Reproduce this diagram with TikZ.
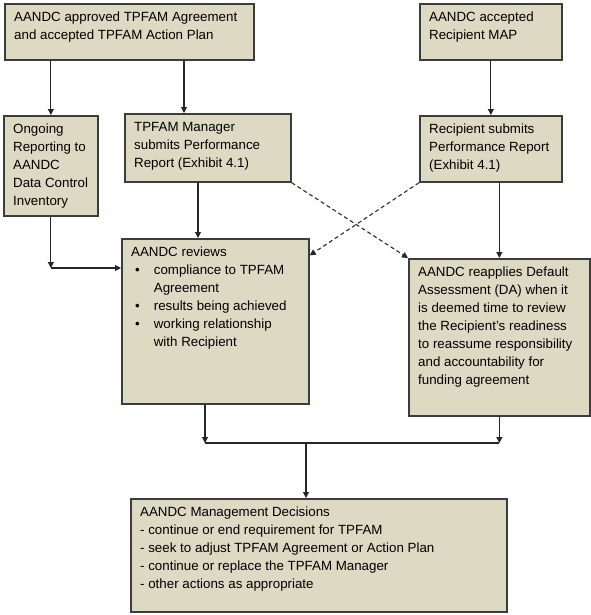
\documentclass[tikz,border=0pt]{standalone}
\usepackage{fontspec}
\setmainfont{Liberation Sans}
\usepackage{xcolor}
\usetikzlibrary{arrows.meta}
\definecolor{boxfill}{RGB}{221,217,195}
\definecolor{boxline}{RGB}{60,60,60}
\newlength\pxu
\setlength\pxu{0.75pt}
% text of a box, top aligned, sizes in pixels
\newcommand\boxtext[3]{\parbox[t][\dimexpr#2\pxu-8pt][t]{\dimexpr#1\pxu-14pt}{\raggedright\strut#3}}
\newcommand\revitem[1]{\par\hangindent=17pt\hangafter=1\noindent\makebox[17pt][l]{\hspace{3pt}\textbullet}#1}
\tikzset{
    stage/.style={draw=boxline, fill=boxfill, line width=1.3pt, anchor=north west,
        inner xsep=7pt, inner ysep=4pt, font=\fontsize{10}{13.5}\selectfont},
    flow/.style={-{Triangle[length=4.5pt,width=4.5pt]}, line width=0.8pt, draw=black!85},
    cross/.style={flow, dashed, dash pattern=on 3pt off 2.2pt}
}

\begin{document}
\begin{tikzpicture}[x=0.75pt, y=-0.75pt]
        \useasboundingbox (0,0) rectangle (590,615);
        \node[stage] (approved) at (4,3) {\boxtext{249}{56}{AANDC approved TPFAM Agreement\\and accepted TPFAM Action Plan}};
        \node[stage] (map) at (419,3) {\boxtext{142}{56}{AANDC accepted\\Recipient MAP}};
        \node[stage] (ongoing) at (3,115) {\boxtext{94}{100}{Ongoing\\Reporting to\\AANDC\\Data Control\\Inventory}};
        \node[stage] (manager) at (124,113) {\boxtext{166}{68}{TPFAM Manager\\submits Performance\\Report (Exhibit 4.1)}};
        \node[stage] (recipient) at (419,115) {\boxtext{142}{66}{Recipient submits\\Performance Report\\(Exhibit 4.1)}};
        \node[stage] (reviews) at (121,238) {\boxtext{187}{165}{AANDC reviews
            \revitem{compliance to TPFAM\newline Agreement}
            \revitem{results being achieved}
            \revitem{working relationship\newline with Recipient}}};
        \node[stage] (reapplies) at (408,258) {\boxtext{181}{157}{AANDC reapplies Default\\Assessment (DA) when it\\is deemed time to review\\the Recipient’s readiness\\to reassume responsibility\\and accountability for\\funding agreement}};
        \node[stage] (decisions) at (130,498) {\boxtext{376}{113}{AANDC Management Decisions\\- continue or end requirement for TPFAM\\- seek to adjust TPFAM Agreement or Action Plan\\- continue or replace the TPFAM Manager\\- other actions as appropriate}};

        \coordinate (corner) at (ongoing.south |- 0,268);
        \coordinate (joinl) at (205,443);
        \coordinate (joinr) at (reapplies.south |- joinl);
        \coordinate (joinm) at (306,443);

        \draw[flow] (approved.south -| ongoing.north) -- (ongoing.north);
        \draw[flow] ([xshift=45pt]manager.north west |- approved.south) -- ([xshift=45pt]manager.north west);
        \draw[flow] (map.south) -- (recipient.north);
        \draw[flow] (ongoing.south) -- (corner);
        \draw[flow] (corner) -- (corner -| reviews.west);
        \draw[flow] ([xshift=55.5pt]manager.south west) -- ([xshift=55.5pt]manager.south west |- reviews.north);
        \draw[flow] (recipient.south -| reapplies.north) -- (reapplies.north);
        \draw[cross] (manager.south east) -- (reapplies.north west);
        \draw[cross] (recipient.south west) -- ([yshift=-13pt]reviews.north east);
        \draw[flow] (reviews.south -| joinl) -- (joinl);
        \draw[flow] (reapplies.south) -- (joinr);
        \draw[line width=0.8pt, draw=black!85] (joinl) -- (joinr);
        \draw[flow] (joinm) -- (joinm |- decisions.north);
    \end{tikzpicture}
\end{document}
